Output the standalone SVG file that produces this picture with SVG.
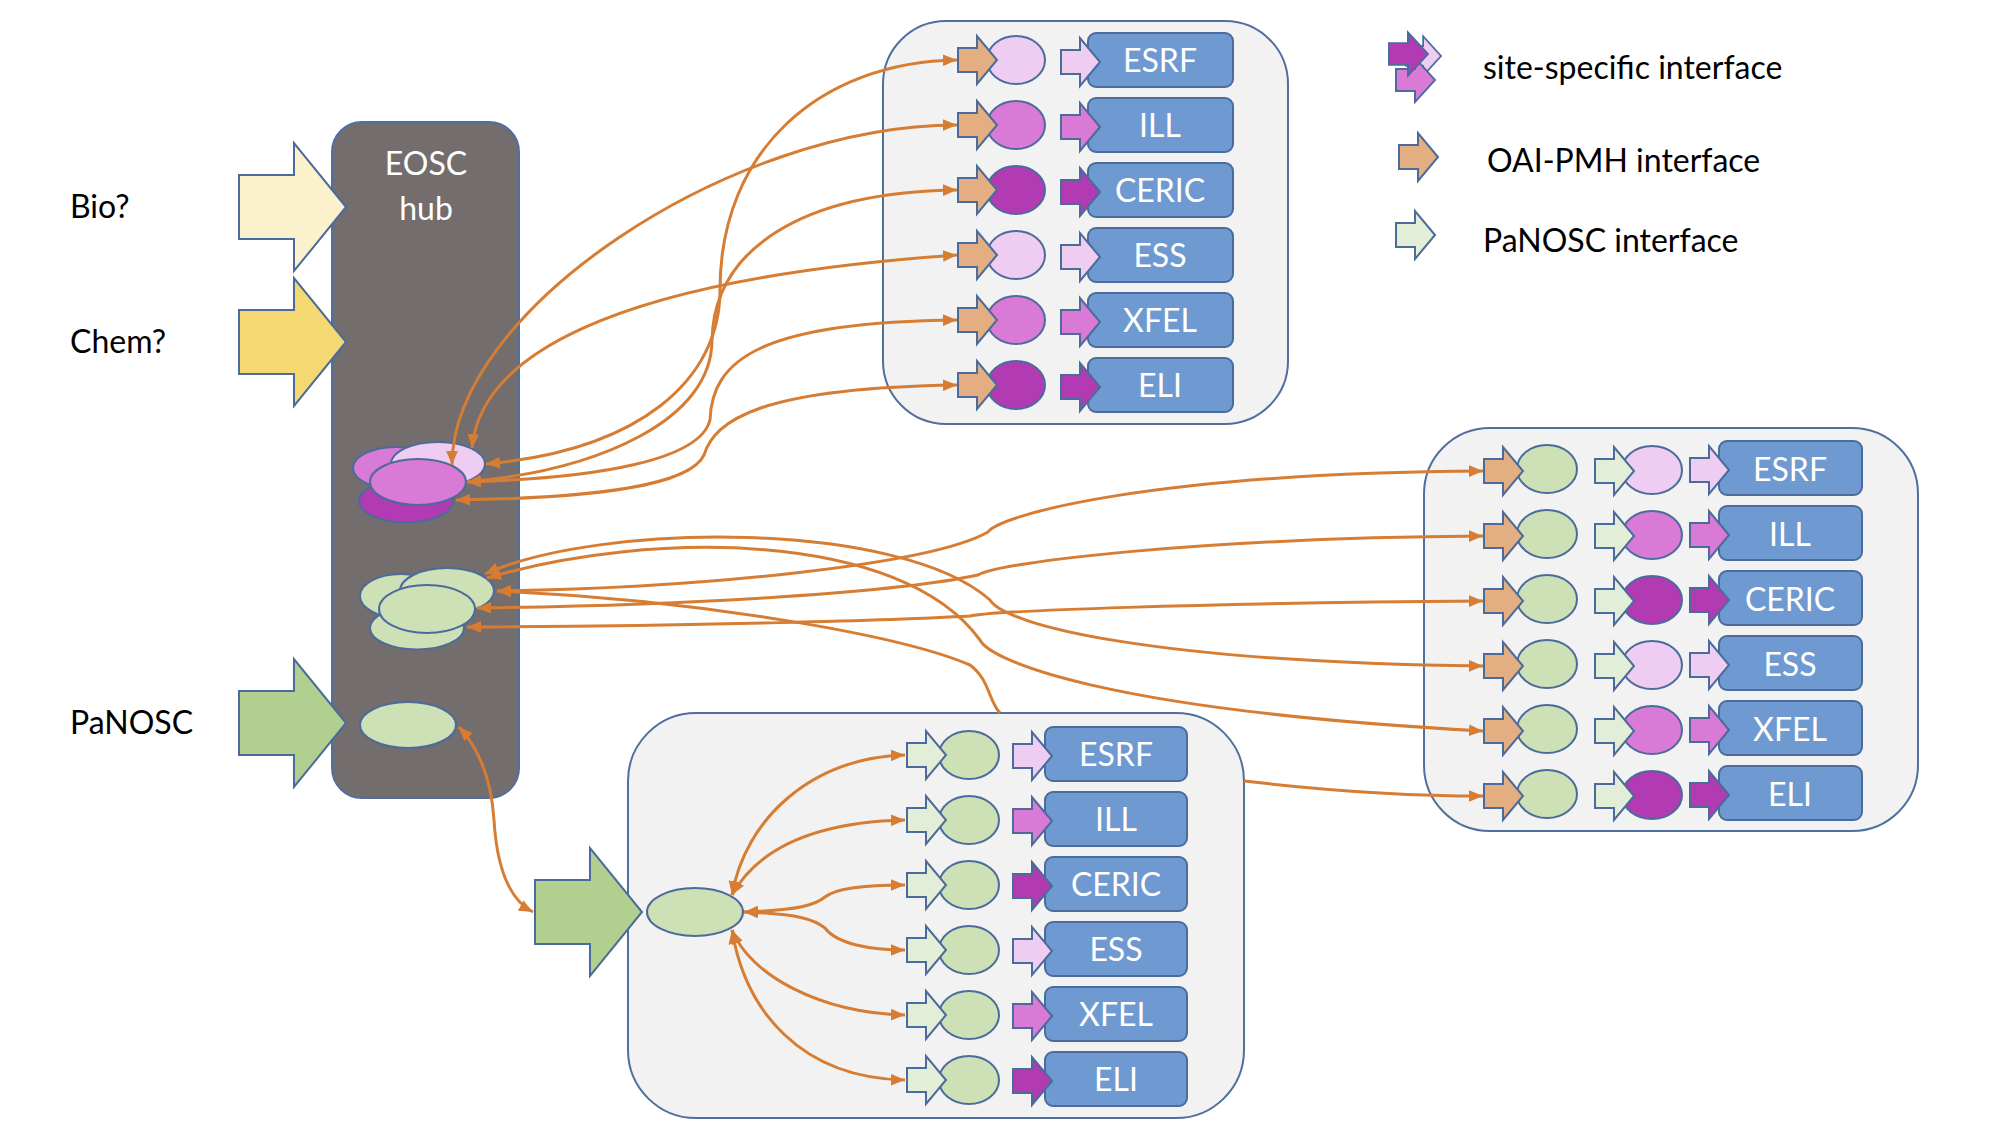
<svg xmlns="http://www.w3.org/2000/svg" width="2000" height="1125" viewBox="0 0 2000 1125">
<style>
.box{fill:#F2F2F2;stroke:#4F6F9F;stroke-width:2}
.hub{fill:#736E6D;stroke:#4F6F9F;stroke-width:2}
.sh{stroke:#4B6B9B;stroke-width:2}
.lt{fill:#EFCDF2}.md{fill:#D97AD6}.dk{fill:#B23AB3}
.or{fill:#E3AE82}.pg{fill:#E3EED9}.gr{fill:#CEE0B6}.bg{fill:#B1CF8E}
.bio{fill:#FBF1CD}.chem{fill:#F4D871}
.site{fill:#6E99D1;stroke:#4B6B9B;stroke-width:2}
.lbl{font-family:Lato,"Liberation Sans",sans-serif;font-size:32px;fill:#000}
.wt{font-family:Lato,"Liberation Sans",sans-serif;font-size:32px;fill:#fff;text-anchor:middle}
.con{fill:none;stroke:#D67D33;stroke-width:3}
.dbl{marker-start:url(#ah);marker-end:url(#ah)}
.st{marker-start:url(#ah)}
.en{marker-end:url(#ah)}
</style>
<defs>
<marker id="ah" viewBox="0 0 12 10" refX="12" refY="5" markerWidth="14" markerHeight="12" markerUnits="userSpaceOnUse" orient="auto-start-reverse">
<path d="M0,0 L12,5 L0,10 z" fill="#D67D33"/>
</marker>
<path id="arS" d="M0,-12 H19 V-24 L39,0 L19,24 V12 H0 Z"/>
<path id="arB" d="M0,-32 H55 V-64 L107,0 L55,64 V32 H0 Z"/>
</defs>
<rect width="2000" height="1125" fill="#fff"/>

<g id="labels">
<text class="lbl" x="70" y="218">Bio?</text>
<text class="lbl" x="70" y="353">Chem?</text>
<text class="lbl" x="70" y="734">PaNOSC</text>
</g>

<g id="eosc-hub">
<rect class="hub" x="332" y="122" width="187" height="676" rx="30"/>
<text class="wt" x="426" y="175">EOSC</text>
<text class="wt" x="426" y="220">hub</text>
</g>
<g id="bio-arrow"><use href="#arB" class="bio sh" transform="translate(239,207)"/></g>
<g id="chem-arrow"><use href="#arB" class="chem sh" transform="translate(239,342)"/></g>
<g id="panosc-arrow"><use href="#arB" class="bg sh" transform="translate(239,723)"/></g>

<g id="hub-site-cluster">
<ellipse class="md sh" cx="396" cy="468" rx="43" ry="21"/>
<ellipse class="lt sh" cx="438" cy="464" rx="47" ry="22"/>
<ellipse class="dk sh" cx="406" cy="501" rx="47" ry="21.5"/>
<ellipse class="md sh" cx="418" cy="482" rx="48" ry="23"/>
</g>
<g id="hub-oai-cluster">
<ellipse class="gr sh" cx="401" cy="596" rx="41" ry="22"/>
<ellipse class="gr sh" cx="447" cy="591" rx="47" ry="23"/>
<ellipse class="gr sh" cx="417" cy="628" rx="47" ry="21.5"/>
<ellipse class="gr sh" cx="427" cy="609" rx="48" ry="24"/>
</g>
<g id="hub-panosc"><ellipse class="gr sh" cx="408" cy="725" rx="48" ry="23"/></g>

<g id="site-box">
<rect class="box" x="883" y="21" width="405" height="403" rx="63"/>
<g id="s-esrf"><ellipse class="lt sh" cx="1016" cy="60" rx="29" ry="24"/><use href="#arS" class="or sh" transform="translate(958,60)"/><rect class="site" x="1088" y="33" width="145" height="54" rx="8"/><use href="#arS" class="lt sh" transform="translate(1061,62)"/><text class="wt" x="1160" y="72">ESRF</text></g>
<g id="s-ill"><ellipse class="md sh" cx="1016" cy="125" rx="29" ry="24"/><use href="#arS" class="or sh" transform="translate(958,125)"/><rect class="site" x="1088" y="98" width="145" height="54" rx="8"/><use href="#arS" class="md sh" transform="translate(1061,127)"/><text class="wt" x="1160" y="137">ILL</text></g>
<g id="s-ceric"><ellipse class="dk sh" cx="1016" cy="190" rx="29" ry="24"/><use href="#arS" class="or sh" transform="translate(958,190)"/><rect class="site" x="1088" y="163" width="145" height="54" rx="8"/><use href="#arS" class="dk sh" transform="translate(1061,192)"/><text class="wt" x="1160" y="202">CERIC</text></g>
<g id="s-ess"><ellipse class="lt sh" cx="1016" cy="255" rx="29" ry="24"/><use href="#arS" class="or sh" transform="translate(958,255)"/><rect class="site" x="1088" y="228" width="145" height="54" rx="8"/><use href="#arS" class="lt sh" transform="translate(1061,257)"/><text class="wt" x="1160" y="267">ESS</text></g>
<g id="s-xfel"><ellipse class="md sh" cx="1016" cy="320" rx="29" ry="24"/><use href="#arS" class="or sh" transform="translate(958,320)"/><rect class="site" x="1088" y="293" width="145" height="54" rx="8"/><use href="#arS" class="md sh" transform="translate(1061,322)"/><text class="wt" x="1160" y="332">XFEL</text></g>
<g id="s-eli"><ellipse class="dk sh" cx="1016" cy="385" rx="29" ry="24"/><use href="#arS" class="or sh" transform="translate(958,385)"/><rect class="site" x="1088" y="358" width="145" height="54" rx="8"/><use href="#arS" class="dk sh" transform="translate(1061,387)"/><text class="wt" x="1160" y="397">ELI</text></g>
</g>

<g id="oai-box">
<rect class="box" x="1424" y="428" width="494" height="403" rx="66"/>
<g id="o-esrf"><ellipse class="gr sh" cx="1547" cy="469" rx="30" ry="24"/><use href="#arS" class="or sh" transform="translate(1484,471)"/><ellipse class="lt sh" cx="1652" cy="470" rx="30" ry="24"/><use href="#arS" class="pg sh" transform="translate(1595,471)"/><rect class="site" x="1719" y="441" width="143" height="54" rx="8"/><use href="#arS" class="lt sh" transform="translate(1690,470)"/><text class="wt" x="1790" y="481">ESRF</text></g>
<g id="o-ill"><ellipse class="gr sh" cx="1547" cy="534" rx="30" ry="24"/><use href="#arS" class="or sh" transform="translate(1484,536)"/><ellipse class="md sh" cx="1652" cy="535" rx="30" ry="24"/><use href="#arS" class="pg sh" transform="translate(1595,536)"/><rect class="site" x="1719" y="506" width="143" height="54" rx="8"/><use href="#arS" class="md sh" transform="translate(1690,535)"/><text class="wt" x="1790" y="546">ILL</text></g>
<g id="o-ceric"><ellipse class="gr sh" cx="1547" cy="599" rx="30" ry="24"/><use href="#arS" class="or sh" transform="translate(1484,601)"/><ellipse class="dk sh" cx="1652" cy="600" rx="30" ry="24"/><use href="#arS" class="pg sh" transform="translate(1595,601)"/><rect class="site" x="1719" y="571" width="143" height="54" rx="8"/><use href="#arS" class="dk sh" transform="translate(1690,600)"/><text class="wt" x="1790" y="611">CERIC</text></g>
<g id="o-ess"><ellipse class="gr sh" cx="1547" cy="664" rx="30" ry="24"/><use href="#arS" class="or sh" transform="translate(1484,666)"/><ellipse class="lt sh" cx="1652" cy="665" rx="30" ry="24"/><use href="#arS" class="pg sh" transform="translate(1595,666)"/><rect class="site" x="1719" y="636" width="143" height="54" rx="8"/><use href="#arS" class="lt sh" transform="translate(1690,665)"/><text class="wt" x="1790" y="676">ESS</text></g>
<g id="o-xfel"><ellipse class="gr sh" cx="1547" cy="729" rx="30" ry="24"/><use href="#arS" class="or sh" transform="translate(1484,731)"/><ellipse class="md sh" cx="1652" cy="730" rx="30" ry="24"/><use href="#arS" class="pg sh" transform="translate(1595,731)"/><rect class="site" x="1719" y="701" width="143" height="54" rx="8"/><use href="#arS" class="md sh" transform="translate(1690,730)"/><text class="wt" x="1790" y="741">XFEL</text></g>
<g id="o-eli"><ellipse class="gr sh" cx="1547" cy="794" rx="30" ry="24"/><use href="#arS" class="or sh" transform="translate(1484,796)"/><ellipse class="dk sh" cx="1652" cy="795" rx="30" ry="24"/><use href="#arS" class="pg sh" transform="translate(1595,796)"/><rect class="site" x="1719" y="766" width="143" height="54" rx="8"/><use href="#arS" class="dk sh" transform="translate(1690,795)"/><text class="wt" x="1790" y="806">ELI</text></g>
</g>

<g id="panosc-box">
<rect class="box" x="628" y="713" width="616" height="405" rx="68"/>
<use href="#arB" class="bg sh" transform="translate(535,912)"/>
<ellipse class="gr sh" cx="695" cy="912" rx="48" ry="24"/>
<g id="p-esrf"><ellipse class="gr sh" cx="969" cy="755" rx="30" ry="24"/><use href="#arS" class="pg sh" transform="translate(907,755)"/><rect class="site" x="1045" y="727" width="142" height="54" rx="8"/><use href="#arS" class="lt sh" transform="translate(1013,756)"/><text class="wt" x="1116" y="766">ESRF</text></g>
<g id="p-ill"><ellipse class="gr sh" cx="969" cy="820" rx="30" ry="24"/><use href="#arS" class="pg sh" transform="translate(907,820)"/><rect class="site" x="1045" y="792" width="142" height="54" rx="8"/><use href="#arS" class="md sh" transform="translate(1013,821)"/><text class="wt" x="1116" y="831">ILL</text></g>
<g id="p-ceric"><ellipse class="gr sh" cx="969" cy="885" rx="30" ry="24"/><use href="#arS" class="pg sh" transform="translate(907,885)"/><rect class="site" x="1045" y="857" width="142" height="54" rx="8"/><use href="#arS" class="dk sh" transform="translate(1013,886)"/><text class="wt" x="1116" y="896">CERIC</text></g>
<g id="p-ess"><ellipse class="gr sh" cx="969" cy="950" rx="30" ry="24"/><use href="#arS" class="pg sh" transform="translate(907,950)"/><rect class="site" x="1045" y="922" width="142" height="54" rx="8"/><use href="#arS" class="lt sh" transform="translate(1013,951)"/><text class="wt" x="1116" y="961">ESS</text></g>
<g id="p-xfel"><ellipse class="gr sh" cx="969" cy="1015" rx="30" ry="24"/><use href="#arS" class="pg sh" transform="translate(907,1015)"/><rect class="site" x="1045" y="987" width="142" height="54" rx="8"/><use href="#arS" class="md sh" transform="translate(1013,1016)"/><text class="wt" x="1116" y="1026">XFEL</text></g>
<g id="p-eli"><ellipse class="gr sh" cx="969" cy="1080" rx="30" ry="24"/><use href="#arS" class="pg sh" transform="translate(907,1080)"/><rect class="site" x="1045" y="1052" width="142" height="54" rx="8"/><use href="#arS" class="dk sh" transform="translate(1013,1081)"/><text class="wt" x="1116" y="1091">ELI</text></g>
</g>

<g id="legend">
<use href="#arS" class="lt sh" transform="translate(1406,56) scale(0.9,0.82)"/>
<use href="#arS" class="md sh" transform="translate(1396,80) scale(1,0.92)"/>
<use href="#arS" class="dk sh" transform="translate(1389,54) scale(1,0.9)"/>
<text class="lbl" x="1483" y="79">site-specific interface</text>
<use href="#arS" class="or sh" transform="translate(1399,157)"/>
<text class="lbl" x="1487" y="172">OAI-PMH interface</text>
<use href="#arS" class="pg sh" transform="translate(1396,235)"/>
<text class="lbl" x="1483" y="252">PaNOSC interface</text>
</g>

<g id="connectors">
<path class="con dbl" d="M486,464 C640,450 720,380 720,290 C720,150 820,62 957,60"/>
<path class="con dbl" d="M452,465 C452,311 730,125 957,125"/>
<path class="con dbl" d="M467,482 C600,470 712,420 712,340 C714,250 800,192 957,190"/>
<path class="con dbl" d="M472,448 C480,360 600,280 957,255"/>
<path class="con dbl" d="M467,482 C600,478 700,460 710,420 C712,360 760,322 957,320"/>
<path class="con dbl" d="M456,500 C600,498 690,485 704,455 C715,420 760,388 957,385"/>

<path class="con dbl" d="M497,591 C700,588 930,565 988,532 C1000,515 1150,473 1483,471"/>
<path class="con dbl" d="M477,608 C700,605 900,592 978,575 C1000,562 1200,538 1483,536"/>
<path class="con dbl" d="M467,627 C700,626 900,620 970,616 C990,611 1200,603 1483,601"/>
<path class="con dbl" d="M485,574 C600,522 900,520 990,600 C1005,625 1150,662 1483,666"/>
<path class="con dbl" d="M487,578 C650,530 900,530 980,640 C990,660 1100,710 1483,731"/>
<path class="con st" d="M497,591 C700,600 900,635 970,665 C990,680 988,700 1000,713"/>
<path class="con en" d="M1244,781 C1330,791 1400,796 1483,796"/>

<path class="con dbl" d="M459,727 C485,755 492,790 494,820 C497,870 510,900 533,912"/>

<path class="con dbl" d="M732,895 C745,820 810,758 905,755"/>
<path class="con dbl" d="M732,895 C760,845 820,822 905,820"/>
<path class="con dbl" d="M744,912 C800,910 815,905 825,897 C837,887 870,885 905,885"/>
<path class="con dbl" d="M744,912 C800,914 815,920 825,928 C837,944 870,950 905,950"/>
<path class="con dbl" d="M732,930 C750,975 820,1013 905,1015"/>
<path class="con dbl" d="M732,930 C745,1010 800,1078 905,1080"/>
</g>
</svg>
